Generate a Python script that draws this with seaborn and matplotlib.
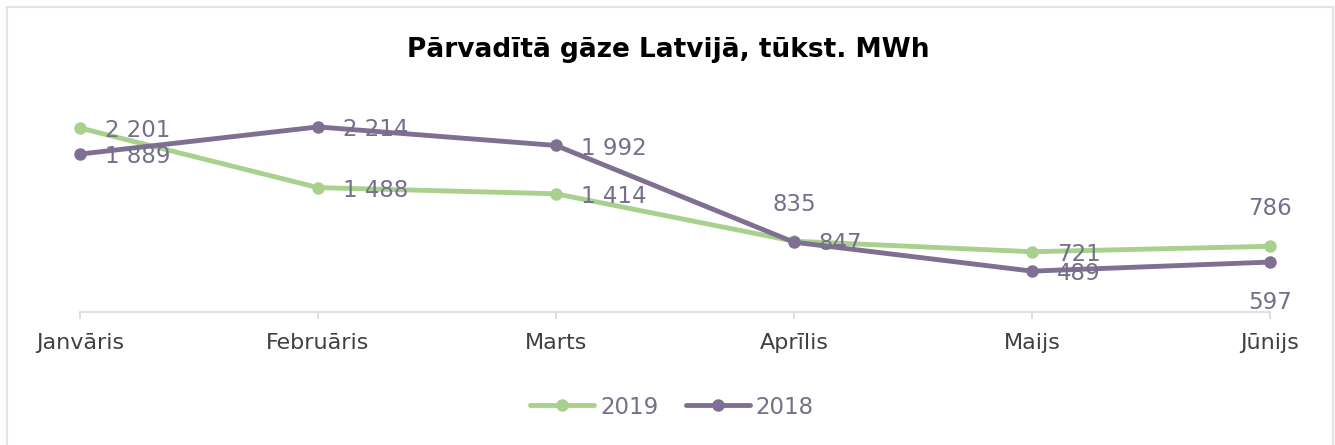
import matplotlib
matplotlib.use('Agg')
import matplotlib.pyplot as plt
import seaborn as sns
import pandas as pd
from matplotlib.lines import Line2D

sns.set_theme(style='white')
plt.rcParams['font.family'] = ['DejaVu Sans']

MONTHS = ['Janvāris', 'Februāris', 'Marts', 'Aprīlis', 'Maijs', 'Jūnijs']
VALUES_2019 = [2201, 1488, 1414, 847, 721, 786]
VALUES_2018 = [1889, 2214, 1992, 835, 489, 597]
# label placement per point: 'r' right, 'a' above, 'b' below
POS_2019 = ['r', 'r', 'r', 'r', 'r', 'a']
POS_2018 = ['r', 'r', 'r', 'a', 'r', 'b']

GREEN = '#A9D18E'
PURPLE = '#7F6F92'
LABEL_COLOR = '#75708A'

df = pd.concat([
    pd.DataFrame({'Month': MONTHS, 'Value': VALUES_2019, 'Year': '2019', 'Pos': POS_2019}),
    pd.DataFrame({'Month': MONTHS, 'Value': VALUES_2018, 'Year': '2018', 'Pos': POS_2018}),
], ignore_index=True)
df['x'] = df['Month'].map({m: i for i, m in enumerate(MONTHS)})

fig = plt.figure(figsize=(13.35, 4.45), dpi=100)
ax = fig.add_axes([80 / 1335, (445 - 312) / 445, 1190 / 1335, 209 / 445])

palette = {'2019': GREEN, '2018': PURPLE}
sns.lineplot(data=df, x='x', y='Value', hue='Year', palette=palette,
             marker='o', markersize=9, markeredgewidth=0, linewidth=3.5,
             legend=False, ax=ax)
for line in ax.lines:
    line.set_clip_on(False)

offsets = {'r': (18, -2, 'left', 'center'), 'a': (0, 19, 'center', 'bottom'),
           'b': (0, -21, 'center', 'top')}
for _, row in df.iterrows():
    dx, dy, ha, va = offsets[row['Pos']]
    label = f"{row['Value']:,}".replace(',', ' ')
    ax.annotate(label, (row['x'], row['Value']), xytext=(dx, dy),
                textcoords='offset points', ha=ha, va=va,
                fontsize=16.5, color=LABEL_COLOR)

ax.set_xlim(0, 5)
ax.set_ylim(0, 2500)
ax.set_xticks(range(len(MONTHS)))
ax.set_xticklabels(MONTHS, fontsize=16, color='#404040')
ax.set_yticks([])
ax.set_xlabel('')
ax.set_ylabel('')
for side in ['top', 'right', 'left']:
    ax.spines[side].set_visible(False)
ax.spines['bottom'].set_color('#D9D9D9')
ax.spines['bottom'].set_linewidth(1.2)
ax.tick_params(axis='x', bottom=True, length=5, width=1.2, color='#D9D9D9', pad=10)

fig.text(668 / 1335, 1 - 50 / 445, 'Pārvadītā gāze Latvijā, tūkst. MWh',
         ha='center', va='center', fontsize=19, fontweight='bold', color='black')

handles = [Line2D([], [], color=GREEN, lw=3.5, marker='o', markersize=9, markeredgewidth=0),
           Line2D([], [], color=PURPLE, lw=3.5, marker='o', markersize=9, markeredgewidth=0)]
fig.legend(handles, ['2019', '2018'], loc='center', bbox_to_anchor=(672 / 1335, 1 - 407 / 445),
           ncol=2, frameon=False, fontsize=16.5, handlelength=2.8, handletextpad=0.25,
           columnspacing=1.2, labelcolor=LABEL_COLOR)

frame = plt.Rectangle((7 / 1335, -0.01), 1326 / 1335, 1 - 7 / 445 + 0.01,
                      transform=fig.transFigure, fill=False, edgecolor='#E3E3E3', lw=1.5)
fig.patches.append(frame)

fig.savefig('out.png', dpi=100)
